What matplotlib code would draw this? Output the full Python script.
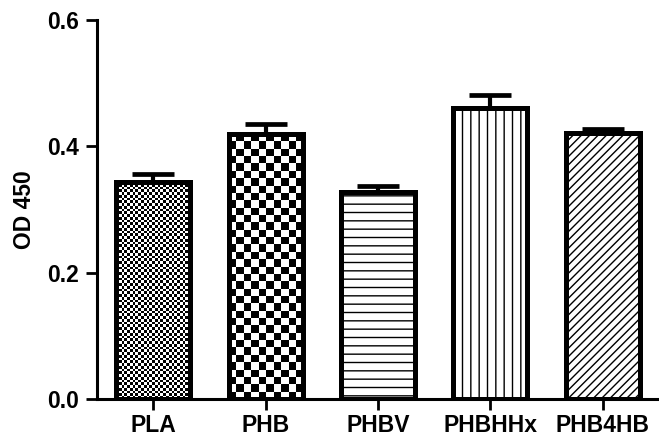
import matplotlib
matplotlib.use('Agg')
import matplotlib.pyplot as plt
import numpy as np

###############################################################################
#0. Data
###############################################################################
groups = ['PLA', 'PHB', 'PHBV', 'PHBHHx', 'PHB4HB']
od450 = [0.344, 0.419, 0.328, 0.461, 0.421]
od450_err = [0.012, 0.017, 0.009, 0.021, 0.006]

#Fill style per bar (checker patterns drawn as images, the rest as hatches)
fills = ['checker_fine', 'checker', '--', '||', '////']
checkSize = {'checker_fine': 2.75, 'checker': 7.3} #square size in pixels

###############################################################################
#1. Plot
###############################################################################
plt.rcParams['font.family'] = ['Liberation Sans', 'DejaVu Sans']
plt.rcParams['font.weight'] = 'bold'
plt.rcParams['hatch.linewidth'] = 1.0

fig = plt.figure(figsize=(6.59, 4.38), dpi=100)
ax = fig.add_axes([97/659, 39/438, 1 - 97/659, 379/438])

x = np.arange(len(groups))
ax.set_xlim(-0.5, len(groups) - 0.5)
ax.set_ylim(0, 0.6)

bars = ax.bar(x, od450, width=0.66, facecolor='white', edgecolor='black', linewidth=3.6, zorder=3)

for bar, style in zip(bars, fills):
    if style in checkSize:
        x0, y0 = bar.get_x(), bar.get_y()
        w, h = bar.get_width(), bar.get_height()
        (px0, py0), (px1, py1) = ax.transData.transform([(x0, y0), (x0 + w, y0 + h)])
        nx = int(round((px1 - px0) / checkSize[style]))
        ny = int(round((py1 - py0) / checkSize[style]))
        board = np.add.outer(np.arange(ny), np.arange(nx)) % 2
        ax.imshow(board, cmap='gray', vmin=0, vmax=1, extent=(x0, x0 + w, y0, y0 + h),
                  interpolation='nearest', aspect='auto', origin='lower', zorder=2)
        bar.set_facecolor('none')
    else:
        bar.set_hatch(style)

ax.errorbar(x, od450, yerr=[np.zeros(len(x)), od450_err], fmt='none', ecolor='black',
            elinewidth=3, capsize=15, capthick=3.4, zorder=4)

ax.set_xlim(-0.5, len(groups) - 0.5)
ax.set_ylim(0, 0.6)

#Axes formatting
for side in ['top', 'right']:
    ax.spines[side].set_visible(False)
for side in ['left', 'bottom']:
    ax.spines[side].set_linewidth(2.2)

ax.set_xticks(x)
ax.set_xticklabels(groups)
ax.set_yticks([0, 0.2, 0.4, 0.6])
ax.tick_params(axis='both', direction='out', length=8, width=2, labelsize=16.5)
ax.tick_params(axis='y', pad=5)
ax.tick_params(axis='x', pad=3)
ax.set_ylabel('OD 450', fontsize=16.5, fontweight='bold', labelpad=8)

fig.savefig('out.png', dpi=100)
